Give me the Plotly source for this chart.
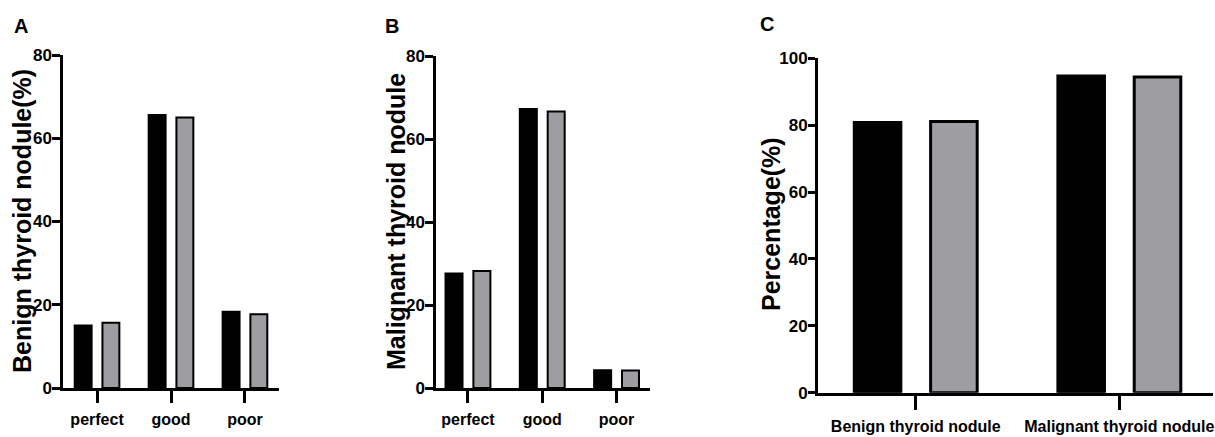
import plotly.graph_objects as go

# ---------------- data ----------------
grades = ["perfect", "good", "poor"]
benign_black = [15.0, 65.6, 18.3]
benign_gray = [15.7, 65.0, 17.7]
malignant_black = [27.6, 67.2, 4.3]
malignant_gray = [28.2, 66.6, 4.2]
nodule_types = ["Benign thyroid nodule", "Malignant thyroid nodule"]
pct_black = [80.8, 94.7]
pct_gray = [81.1, 94.4]

ticks_ab = [0, 20, 40, 60, 80]
ticks_c = [0, 20, 40, 60, 80, 100]

BLACK = "#000000"
GRAY = "#9e9da2"
FONT = "Liberation Sans, Arial, sans-serif"
W, H = 1215, 437

fig = go.Figure()

def add_pair(xs, yb, yg, xa, ya, lw):
    fig.add_trace(go.Bar(x=xs, y=yb, xaxis=xa, yaxis=ya, name="series 1",
                         marker=dict(color=BLACK, line=dict(color=BLACK, width=lw)),
                         showlegend=False))
    fig.add_trace(go.Bar(x=xs, y=yg, xaxis=xa, yaxis=ya, name="series 2",
                         marker=dict(color=GRAY, line=dict(color=BLACK, width=lw)),
                         showlegend=False))

add_pair(grades, benign_black, benign_gray, "x", "y", 2)
add_pair(grades, malignant_black, malignant_gray, "x2", "y2", 2)
add_pair(nodule_types, pct_black, pct_gray, "x3", "y3", 3)

def px_x(a, b):
    return [a / W, b / W]

def px_y(bottom, top):
    return [1 - bottom / H, 1 - top / H]

xtickfont = dict(family=FONT, size=16, color="black", weight=700)
ytickfont = dict(family=FONT, size=17, color="black", weight=700)

def xaxis(dom, rng, anchor, lw, tl):
    return dict(domain=dom, range=rng, anchor=anchor, showline=True, linecolor="black",
                linewidth=lw, ticks="outside", ticklen=tl, tickwidth=lw, tickcolor="black",
                showgrid=False, zeroline=False, tickfont=xtickfont, fixedrange=True,
                tickangle=0, automargin=False, ticklabelstandoff=3)

def yaxis(dom, rng, anchor, vals, lw, tl):
    return dict(domain=dom, range=rng, anchor=anchor, showline=True, linecolor="black",
                linewidth=lw, ticks="outside", ticklen=tl, tickwidth=lw, tickcolor="black",
                tickvals=vals, showgrid=False, zeroline=False, tickfont=ytickfont,
                fixedrange=True, automargin=False, ticklabelstandoff=-3)

fig.update_layout(
    width=W, height=H,
    margin=dict(l=0, r=0, t=0, b=0, autoexpand=False),
    paper_bgcolor="white", plot_bgcolor="white",
    barmode="group", bargap=0.25, bargroupgap=0.39,
    xaxis=xaxis(px_x(63, 279), [-0.46, 2.46], "y", 2.5, 12),
    yaxis=yaxis(px_y(388, 55), [0, 80], "x", ticks_ab, 2.5, 8),
    xaxis2=xaxis(px_x(436, 650), [-0.43, 2.45], "y2", 2.5, 12),
    yaxis2=yaxis(px_y(388, 56), [0, 80], "x2", ticks_ab, 2.5, 8),
    xaxis3=xaxis(px_x(818, 1213), [-0.48, 1.46], "y3", 3, 14),
    yaxis3=yaxis(px_y(392.7, 58.3), [0, 100], "x3", ticks_c, 3, 7),
)

def ann(text, x, y, size, angle=0):
    fig.add_annotation(text=text, x=x / W, y=1 - y / H, xref="paper", yref="paper",
                       showarrow=False, textangle=angle, xanchor="center", yanchor="middle",
                       font=dict(family=FONT, size=size, color="black", weight=700))

ann("Benign thyroid nodule(%)", 22, 221, 25, -90)
ann("Malignant thyroid nodule", 396, 222, 25, -90)
ann("Percentage(%)", 771, 224, 25, -90)
ann("A", 21, 26, 20)
ann("B", 392, 26, 20)
ann("C", 767, 24, 20)

fig.write_html("out.html")
